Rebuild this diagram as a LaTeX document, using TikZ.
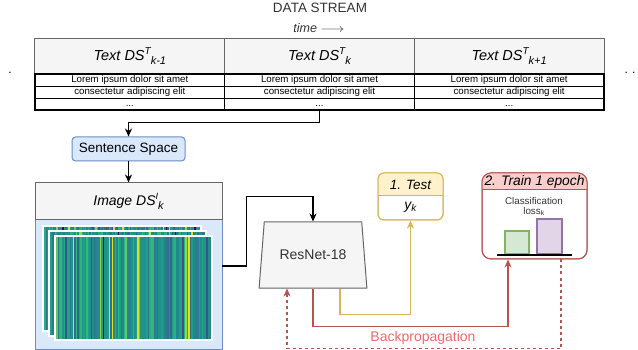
\documentclass[tikz,border=0pt]{standalone}
\usepackage{fontspec}
\setmainfont{Liberation Sans}
\usetikzlibrary{arrows.meta,shapes.geometric,calc}
\definecolor{grayfill}{HTML}{F5F5F5}
\definecolor{graydraw}{HTML}{666666}
\definecolor{bluefill}{HTML}{DAE8FC}
\definecolor{bluedraw}{HTML}{6C8EBF}
\definecolor{yelfill}{HTML}{FFF2CC}
\definecolor{yeldraw}{HTML}{D6B656}
\definecolor{redfill}{HTML}{F8CECC}
\definecolor{reddraw}{HTML}{B85450}
\definecolor{redtext}{HTML}{EA6B66}
\definecolor{grnfill}{HTML}{D5E8D4}
\definecolor{grndraw}{HTML}{82B366}
\definecolor{purfill}{HTML}{E1D5E7}
\definecolor{purdraw}{HTML}{9673A6}
\definecolor{txtgray}{HTML}{333333}
% viridis-like palette (weighted towards teal / green)
\definecolor{vir0}{HTML}{440154}
\definecolor{vir1}{HTML}{3B528B}
\definecolor{vir2}{HTML}{31688E}
\definecolor{vir3}{HTML}{2C728E}
\definecolor{vir4}{HTML}{2C728E}
\definecolor{vir5}{HTML}{26828E}
\definecolor{vir6}{HTML}{26828E}
\definecolor{vir7}{HTML}{21918C}
\definecolor{vir8}{HTML}{21918C}
\definecolor{vir9}{HTML}{21918C}
\definecolor{vir10}{HTML}{21918C}
\definecolor{vir11}{HTML}{1F9E89}
\definecolor{vir12}{HTML}{1F9E89}
\definecolor{vir13}{HTML}{1F9E89}
\definecolor{vir14}{HTML}{28AE80}
\definecolor{vir15}{HTML}{28AE80}
\definecolor{vir16}{HTML}{35B779}
\definecolor{vir17}{HTML}{35B779}
\definecolor{vir18}{HTML}{5EC962}
\definecolor{vir19}{HTML}{90D743}
\definecolor{vir20}{HTML}{DDE318}
\definecolor{vir21}{HTML}{23898E}
\definecolor{vir22}{HTML}{23898E}
\definecolor{vir23}{HTML}{1FA088}
\definecolor{vir24}{HTML}{22A884}
\definecolor{vir25}{HTML}{24878E}
\definecolor{vir26}{HTML}{20938C}
\definecolor{vir27}{HTML}{1E9C89}
\definecolor{vir28}{HTML}{2A788E}
\definecolor{vir29}{HTML}{2EB37C}
\newcommand{\vstripes}[4]{%
  \fill[white] (#1,#2) rectangle (#3,#4);
  \fill[vir8] (#1+2,#2+2) rectangle (#3-2,#4-2);
  \pgfmathtruncatemacro{\nst}{(#3-#1-4)/1.5-1}%
  \foreach \k in {0,...,\nst}{%
    \pgfmathrandominteger{\cc}{0}{29}%
    \fill[vir\cc] ({#1+2+1.5*\k},#2+2) rectangle ({#1+3.5+1.5*\k},#4-2);
  }}
\begin{document}
\begin{tikzpicture}[x=1pt,y=-1pt,
  hdr/.style={draw=graydraw, fill=grayfill, line width=1pt, minimum width=189.67pt, minimum height=35pt, inner sep=0pt, font=\fontsize{14.5}{16}\selectfont\itshape},
  rowc/.style={draw=black, fill=white, line width=1.2pt, minimum width=189.67pt, inner sep=0pt, font=\fontsize{9.7}{10}\selectfont, text height=6.5pt, text depth=1.5pt},
  conn/.style={line width=1.3pt, -{Stealth[length=8pt,width=7pt,inset=2.5pt]}},
  lbl/.style={inner sep=0pt},
]
\useasboundingbox (0,0) rectangle (638,350);

% title
\node[lbl, text=txtgray, font=\fontsize{13.5}{15}\selectfont] (title) at (320,8) {DATA STREAM};
\node[lbl, text=txtgray, font=\fontsize{12.5}{14}\selectfont] (time) at (319,28) {\textit{time} \scalebox{1.25}[1]{$\longrightarrow$}};

% dots
\node[lbl, font=\fontsize{12}{14}\selectfont] (dl) at (10,73) {.};
\node[lbl, font=\fontsize{12}{14}\selectfont] (dr) at (630,73) {.\,\,.};

% table headers
\node[hdr] (h1) at (129.83,56.5) {Text DS\raisebox{5.5pt}{\fontsize{10}{10}\selectfont T}\raisebox{-4.5pt}{\fontsize{11}{11}\selectfont k-1}};
\node[hdr] (h2) at (319.5,56.5) {Text DS\raisebox{5.5pt}{\fontsize{10}{10}\selectfont T}\raisebox{-4.5pt}{\fontsize{11}{11}\selectfont k}};
\node[hdr] (h3) at (509.17,56.5) {Text DS\raisebox{5.5pt}{\fontsize{10}{10}\selectfont T}\raisebox{-4.5pt}{\fontsize{11}{11}\selectfont k+1}};

% table rows
\foreach \n/\cx in {1/129.83,2/319.5,3/509.17}{
  \node[rowc, minimum height=12.5pt] (a\n) at (\cx,80.25) {Lorem ipsum dolor sit amet};
  \node[rowc, minimum height=11.8pt] (b\n) at (\cx,92.4) {consectetur adipiscing elit};
  \node[rowc, minimum height=11.7pt] (c\n) at (\cx,104.15) {...};
}

% sentence space
\node[draw=bluedraw, fill=bluefill, line width=1pt, rounded corners=3.5pt, minimum width=113pt, minimum height=24pt, inner sep=0pt, font=\fontsize{13.5}{15}\selectfont] (ss) at (128.5,149) {Sentence Space};

% image box
\node[draw=bluedraw, fill=bluefill, line width=1pt, minimum width=187pt, minimum height=129pt, inner sep=0pt] (imgb) at (128.5,284.5) {};
\node[draw=graydraw, fill=grayfill, line width=1pt, minimum width=187pt, minimum height=37pt, inner sep=0pt, font=\fontsize{14}{16}\selectfont\itshape] (imgh) at (128.5,201.5) {Image DS\raisebox{5.5pt}{\fontsize{9}{9}\selectfont I}\raisebox{-4.5pt}{\fontsize{11}{11}\selectfont k}};
\node[minimum width=187pt, minimum height=166pt, inner sep=0pt] (img) at (128.5,266) {};

% stacked images
\pgfmathsetseed{5}
\vstripes{42}{225}{202}{332}
\vstripes{48}{230}{207}{337}
\vstripes{54}{235}{213}{341}

% ResNet
\node[trapezium, trapezium stretches=true, trapezium left angle=70.4, trapezium right angle=70.4, minimum width=108pt, minimum height=66pt, fill=grayfill, draw=graydraw, line width=1pt, inner sep=0pt, text=txtgray, font=\fontsize{14}{16}\selectfont] (res) at (313,255) {ResNet-18};

% Test box
\node[draw=yeldraw, fill=white, line width=1pt, rounded corners=6pt, minimum width=65pt, minimum height=47pt, inner sep=0pt] (test) at (410.5,196.5) {};
\begin{scope}
  \clip[rounded corners=6pt] (378,173) rectangle (443,220);
  \fill[yelfill] (378,173) rectangle (443,196);
\end{scope}
\draw[yeldraw, line width=1pt] (378,196) -- (443,196);
\draw[yeldraw, line width=1pt, rounded corners=6pt] (378,173) rectangle (443,220);
\node[lbl, font=\fontsize{13.5}{15}\selectfont\itshape] (testh) at (410.5,184.5) {1. Test};
\node[lbl, font=\fontsize{14}{16}\selectfont\itshape] (yk) at (410.5,207.5) {y\textsubscript{k}};

% Train box
\node[draw=reddraw, fill=white, line width=1pt, rounded corners=9pt, minimum width=105pt, minimum height=86pt, inner sep=0pt] (train) at (534.5,216) {};
\begin{scope}
  \clip[rounded corners=9pt] (482,173) rectangle (587,259);
  \fill[redfill] (482,173) rectangle (587,190);
\end{scope}
\draw[reddraw, line width=1pt] (482,190) -- (587,190);
\draw[reddraw, line width=1pt, rounded corners=9pt] (482,173) rectangle (587,259);
\node[lbl, font=\fontsize{13.8}{15}\selectfont\itshape] (trainh) at (534.5,181.5) {2. Train 1 epoch};
\node[lbl, align=center, text=txtgray, font=\fontsize{9.8}{9.5}\selectfont] (cl) at (534,206.5) {Classification\\loss\textsubscript{k}};
\node[draw=grndraw, fill=grnfill, line width=1.2pt, minimum width=24pt, minimum height=23pt, inner sep=0pt] (gbar) at (517,242.5) {};
\node[draw=purdraw, fill=purfill, line width=1.2pt, minimum width=25pt, minimum height=35pt, inner sep=0pt] (pbar) at (549.5,236.5) {};
\draw[black, line width=1.2pt] (497,255) -- (572,255);

% connectors
\draw[conn] (c2.south) -- ++(0,12) -| (ss.north);
\draw[conn] (ss.south) -- (imgh.north);
\draw[conn] (img.east) -- ++(24,0) |- ([yshift=25pt]res.north) -- (res.north);
\draw[conn, yeldraw] ([xshift=27pt]res.south) -- ++(0,26) -| (test.south);
\draw[conn, reddraw] (res.south) -- ++(0,38) -| ([xshift=-26.5pt]train.south);
\draw[conn, reddraw, dashed, dash pattern=on 3pt off 3pt] ([xshift=26.5pt]train.south) -- ++(0,89) -| ([xshift=-26pt]res.south);

\node[lbl, text=redtext, font=\fontsize{14}{16}\selectfont] (bp) at (423,338) {Backpropagation};
\end{tikzpicture}
\end{document}
